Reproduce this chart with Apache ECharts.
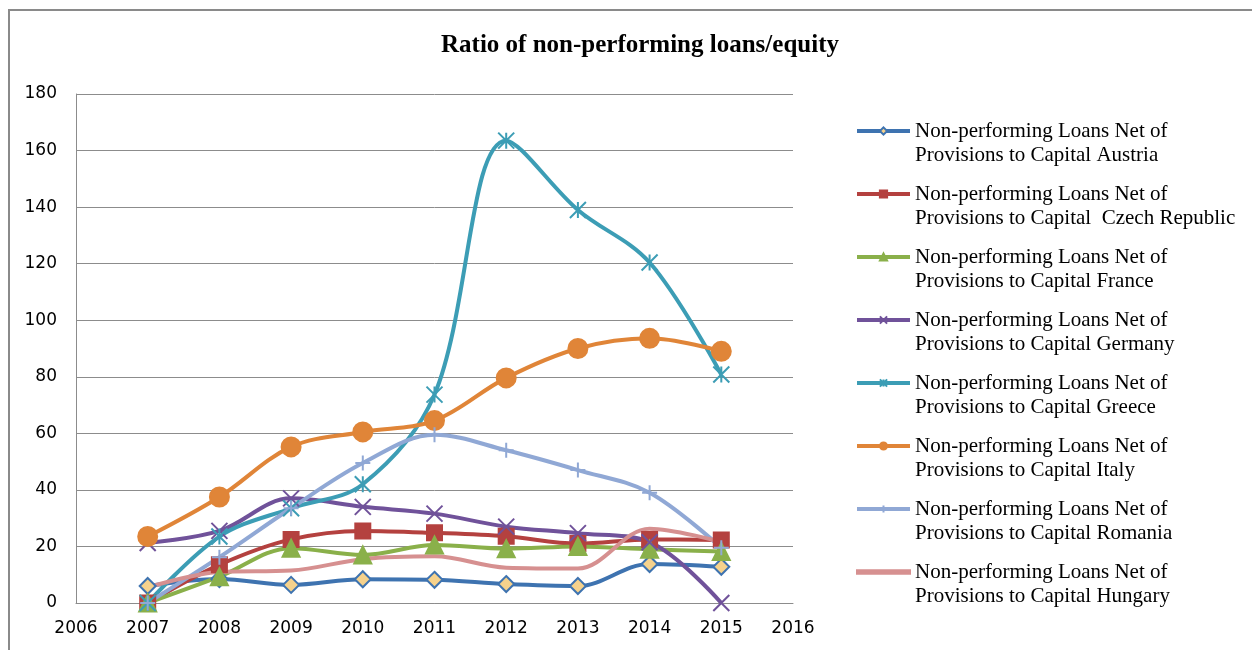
<!DOCTYPE html>
<html>
<head>
<meta charset="utf-8">
<script src="https://cdn.jsdelivr.net/npm/echarts@6/dist/echarts.min.js"></script>
<style>
  html, body { margin: 0; padding: 0; background: #fff; }
  #linechart { width: 1252px; height: 650px; }
</style>
</head>
<body>
<div id="linechart"></div>
<script>

var years = [2007, 2008, 2009, 2010, 2011, 2012, 2013, 2014, 2015];

var austria = [6, 8.5, 6.4, 8.4, 8.2, 6.7, 6, 13.8, 12.8];
var czech = [0, 13.5, 22.5, 25.5, 24.8, 23.6, 21, 22.5, 22.3];
var france = [0, 9.3, 19.4, 17, 20.5, 19.2, 20, 19, 18.2];
var germany = [21.2, 25.5, 37, 34, 31.6, 27, 24.7, 21.5, 0];
var greece = [0, 23.5, 33.5, 42, 73.7, 163.5, 139, 120.4, 80.8];
var italy = [23.5, 37.5, 55.2, 60.5, 64.5, 79.6, 90, 93.6, 89];
var romania = [0, 16.2, 33.5, 49.5, 59.5, 54, 47, 39, 19.5];
var hungary = [5.5, 11, 11.5, 15.5, 16.5, 12.5, 12.2, 26.3, 21.5];

var yTicks = [0, 20, 40, 60, 80, 100, 120, 140, 160, 180];

function pairs(values) {
    return years.map(function (y, i) { return [y, values[i]]; });
}

function lineSeries(name, values, color, symbol, extra) {
    var s = {
        name: name,
        type: 'line',
        smooth: 0.35,
        data: pairs(values),
        symbol: symbol,
        symbolSize: 16,
        lineStyle: { color: color, width: 4 },
        itemStyle: { color: color, borderColor: color, borderWidth: 2 },
        emphasis: { disabled: true }
    };
    for (var k in extra) { s[k] = extra[k]; }
    return s;
}

function drawChart() {

    var chart = echarts.init(document.getElementById('linechart'));
    var pre = 'Non-performing Loans Net of Provisions to Capital ';

    var series = [
        lineSeries(pre + 'Austria', austria, '#3E73B0', 'diamond', {
            itemStyle: { color: '#F6D28C', borderColor: '#3E73B0', borderWidth: 2 }
        }),
        lineSeries(pre + ' Czech Republic', czech, '#B4413F', 'rect', { symbolSize: 15 }),
        lineSeries(pre + 'France', france, '#8AB04A', 'triangle', { symbolSize: 17 }),
        lineSeries(pre + 'Germany', germany, '#70529A', 'path://M0,0L10,10M10,0L0,10', {}),
        lineSeries(pre + 'Greece', greece, '#3C9DB5', 'path://M0,0L10,10M10,0L0,10M5,0L5,10', {}),
        lineSeries(pre + 'Italy', italy, '#E08538', 'circle', { symbolSize: 19 }),
        lineSeries(pre + 'Romania', romania, '#90A8D5', 'path://M5,0L5,10M0,5L10,5', { symbolSize: 15 }),
        lineSeries(pre + 'Hungary', hungary, '#D69090', 'none', {})
    ];

    // Hungary has no marker, so its legend key is a plain bar
    var legendData = series.map(function (s) {
        if (s.symbol === 'none') {
            return { name: s.name, icon: 'path://M0,0L60,0L60,4L0,4Z' };
        }
        return { name: s.name };
    });

    var option = {
        backgroundColor: '#fff',
        animation: false,
        title: {
            text: 'Ratio of non-performing loans/equity',
            left: 635,
            textAlign: 'center',
            top: 28,
            textStyle: {
                fontFamily: 'Liberation Serif',
                fontWeight: 'bold',
                fontSize: 25,
                color: '#000'
            }
        },
        graphic: [{
            type: 'rect',
            shape: { x: 9, y: 10, width: 1300, height: 700 },
            style: { fill: 'none', stroke: '#8a8a8a', lineWidth: 2 },
            silent: true
        }],
        legend: {
            orient: 'vertical',
            left: 855,
            top: 95,
            padding: 0,
            itemGap: -9,
            itemWidth: 53,
            itemHeight: 9,
            lineStyle: { width: 4 },
            data: legendData,
            // empty first line keeps the icon level with the first text line
            formatter: function (name) {
                return '\n' + name.replace('Net of ', 'Net of\n');
            },
            textStyle: {
                fontFamily: 'Liberation Serif',
                fontSize: 21,
                lineHeight: 24,
                color: '#000'
            }
        },
        grid: {
            left: 76,
            right: 459,
            top: 94,
            bottom: 47
        },
        xAxis: {
            type: 'value',
            min: 2006,
            max: 2016,
            interval: 1,
            splitLine: { show: false },
            axisTick: { show: false },
            axisLine: { lineStyle: { color: '#8c8c8c', width: 1 } },
            axisLabel: {
                margin: 17,
                fontFamily: 'DejaVu Sans',
                fontSize: 17,
                color: '#000',
                formatter: function (v) { return String(v); }
            }
        },
        yAxis: {
            type: 'value',
            min: yTicks[0],
            max: yTicks[yTicks.length - 1],
            interval: 20,
            axisTick: { show: false },
            axisLine: { show: true, lineStyle: { color: '#8c8c8c', width: 1 } },
            splitLine: { lineStyle: { color: '#8c8c8c', width: 1 } },
            axisLabel: {
                margin: 19,
                fontFamily: 'DejaVu Sans',
                fontSize: 17,
                color: '#000'
            }
        },
        series: series
    };

    chart.setOption(option);
}

drawChart();

</script>
</body>
</html>
